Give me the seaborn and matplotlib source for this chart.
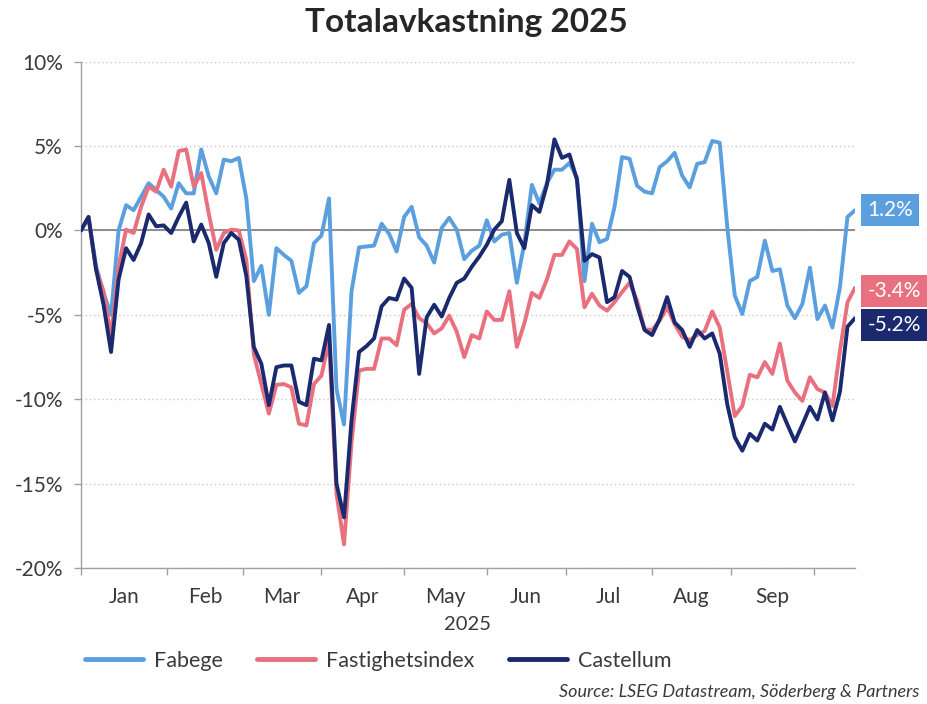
import numpy as np
import pandas as pd
import matplotlib
matplotlib.use("Agg")
import matplotlib.pyplot as plt
import matplotlib.transforms as mtransforms
from matplotlib.lines import Line2D
import seaborn as sns

# Totalavkastning 2025 (%), avläst varannan vardag från 2024-12-31
fabege = [0, 0.8, -2.1, -3.7, -5.0, 0.0, 1.5, 1.2, 2.0, 2.8,
          2.4, 2.0, 1.3, 2.8, 2.2, 2.2, 4.8, 3.2, 2.2, 4.2,
          4.1, 4.3, 1.9, -3.0, -2.1, -5.0, -1.05, -1.45, -1.8, -3.7,
          -3.3, -0.75, -0.3, 1.9, -9.4, -11.5, -3.6, -1.0, -0.95, -0.9,
          0.4, -0.2, -1.25, 0.8, 1.4, -0.4, -0.9, -1.9, 0.15, 0.75,
          0.05, -1.7, -1.2, -0.9, 0.6, -0.65, -0.25, -0.15, -3.1, -0.75,
          2.7, 1.6, 2.8, 3.6, 3.6, 4.0, 3.15, -3.0, 0.4, -0.7,
          -0.5, 1.4, 4.35, 4.25, 2.65, 2.3, 2.2, 3.75, 4.1, 4.6,
          3.25, 2.55, 3.95, 4.05, 5.3, 5.2, 0.2, -3.85, -4.95, -3.0,
          -2.75, -0.6, -2.4, -2.3, -4.45, -5.2, -4.35, -2.2, -5.25, -4.45,
          -5.75, -3.35, 0.8, 1.2]
fastighetsindex = [0, 0.8, -2.3, -3.6, -6.3, -2.15, 0.05, -0.15, 1.4, 2.6,
                   2.3, 3.6, 2.6, 4.7, 4.8, 2.6, 3.4, 1.0, -1.15, -0.15,
                   0.05, 0.0, -1.75, -7.35, -9.1, -10.85, -9.15, -9.1, -9.3, -11.45,
                   -11.55, -9.1, -8.6, -6.5, -15.6, -18.6, -12.6, -8.3, -8.2, -8.2,
                   -6.4, -6.4, -6.8, -4.7, -4.35, -5.2, -5.5, -6.1, -5.8, -5.05,
                   -6.0, -7.5, -6.2, -6.4, -4.8, -5.3, -5.3, -3.6, -6.9, -5.5,
                   -3.7, -4.0, -2.9, -1.45, -1.45, -0.65, -1.1, -4.55, -3.75, -4.45,
                   -4.75, -4.25, -3.65, -3.1, -4.15, -5.85, -5.9, -5.35, -4.55, -5.55,
                   -6.3, -6.5, -6.2, -5.95, -4.8, -5.75, -8.35, -11.0, -10.4, -8.55,
                   -8.7, -7.8, -8.5, -6.7, -8.9, -9.6, -10.1, -8.7, -9.4, -9.6,
                   -10.4, -7.1, -4.25, -3.4]
castellum = [0, 0.8, -2.3, -4.4, -7.2, -2.9, -1.05, -1.75, -0.75, 0.95,
             0.25, 0.3, -0.15, 0.8, 1.65, -0.65, 0.35, -0.75, -2.75, -0.75,
             -0.15, -0.55, -2.7, -6.9, -7.9, -10.35, -8.1, -8.0, -8.0, -10.15,
             -10.35, -7.6, -7.7, -5.6, -15.0, -17.0, -11.25, -7.2, -6.85, -6.4,
             -4.5, -4.0, -4.1, -2.85, -3.4, -8.5, -5.15, -4.4, -5.1, -4.0,
             -3.1, -2.85, -2.15, -1.55, -0.85, 0.05, 0.55, 3.0, -0.15, -1.05,
             1.5, 1.1, 2.7, 5.4, 4.3, 4.5, 3.0, -1.8, -1.4, -1.6,
             -4.25, -3.95, -2.4, -2.75, -4.45, -5.9, -6.2, -5.25, -3.95, -5.45,
             -5.9, -6.9, -5.9, -6.4, -6.1, -7.3, -10.3, -12.25, -13.05, -12.05,
             -12.45, -11.45, -11.8, -10.45, -11.5, -12.5, -11.5, -10.45, -11.2, -9.6,
             -11.25, -9.55, -5.7, -5.2]

series_names = ["Fabege", "Fastighetsindex", "Castellum"]
colors = {"Fabege": "#5B9FDF", "Fastighetsindex": "#E8707F", "Castellum": "#1B2A6E"}
month_labels = ["Jan", "Feb", "Mar", "Apr", "May", "Jun", "Jul", "Aug", "Sep"]
start = "2024-12-31"

dates = pd.bdate_range(start, periods=len(fabege), freq="2B")
# position = antal vardagar sedan start (axeln går i vardagar)
pos = np.busday_count(np.datetime64(start), dates.values.astype("datetime64[D]"))

df = pd.DataFrame({"pos": pos, "Fabege": fabege,
                   "Fastighetsindex": fastighetsindex, "Castellum": castellum})
long_df = df.melt(id_vars="pos", var_name="serie", value_name="avk")

sns.set_theme(style="white")
plt.rcParams["font.family"] = ["Lato", "DejaVu Sans"]
text_col = "#3A3A3A"

fig = plt.figure(figsize=(9.28, 7.04), dpi=100)
ax = fig.add_axes([81 / 928, 1 - 568 / 704, 774 / 928, (568 - 61.7) / 704])

sns.lineplot(data=long_df, x="pos", y="avk", hue="serie", hue_order=series_names,
             palette=colors, linewidth=2.8, ax=ax, legend=False, zorder=3)

# axlar
ax.set_ylim(-20, 10)
ax.set_xlim(0, pos[-1])
yt = np.arange(-20, 11, 5)
ax.set_yticks(yt)
ax.set_yticklabels([f"{v}%" for v in yt], fontsize=15, color=text_col)
ax.yaxis.grid(True, linestyle=(0, (1, 2)), color="#C8C8C8", linewidth=1)
ax.axhline(0, color="#8C8C8C", linewidth=1.4, zorder=2)

month_starts = pd.date_range("2025-01-01", periods=10, freq="MS")
bounds = np.busday_count(np.datetime64(start), month_starts.values.astype("datetime64[D]")) - 1
ax.set_xticks(bounds)
ax.set_xticklabels([])
centers = (bounds[:-1] + bounds[1:]) / 2
ax.set_xticks(centers, minor=True)
ax.set_xticklabels(month_labels, minor=True, fontsize=15, color=text_col)
ax.tick_params(axis="x", which="major", direction="out", length=5, width=1, color="#A0A0A0", bottom=True)
ax.tick_params(axis="x", which="minor", length=0, pad=14)
ax.tick_params(axis="y", direction="out", length=5, width=1, color="#A0A0A0", left=True, pad=8)
ax.set_xlabel("2025", fontsize=14.5, color=text_col, labelpad=6)
ax.set_ylabel("")

for side in ["top", "right"]:
    ax.spines[side].set_visible(False)
for side in ["left", "bottom"]:
    ax.spines[side].set_color("#A0A0A0")
    ax.spines[side].set_linewidth(1)

# slutvärden i rutor till höger
trans = mtransforms.blended_transform_factory(ax.transAxes, ax.transData)
nudge = {"Fabege": 0.0, "Fastighetsindex": -0.2, "Castellum": -0.4}
for name in series_names:
    last = df[name].iloc[-1]
    ax.text(1.016, last + nudge[name], f"{last:.1f}%", transform=trans,
            ha="left", va="center", fontsize=15, color="white",
            bbox=dict(boxstyle="square,pad=0.3", facecolor=colors[name], edgecolor="none"))

fig.suptitle("Totalavkastning 2025", x=0.503, y=0.988, fontsize=24,
             fontweight="bold", color="#262626")

handles = [Line2D([0], [0], color=colors[n], linewidth=3.5) for n in series_names]
fig.legend(handles, series_names, loc="center left", bbox_to_anchor=(85 / 928, 1 - 661 / 704),
           ncol=3, frameon=False, fontsize=15.5, handlelength=2.7, handletextpad=0.5,
           columnspacing=1.6, labelcolor=text_col, borderpad=0, borderaxespad=0)

fig.text(920 / 928, 1 - 692 / 704, "Source: LSEG Datastream, Söderberg & Partners",
         ha="right", va="center", fontsize=13, style="italic", color=text_col)

fig.savefig("out.png", dpi=100)
